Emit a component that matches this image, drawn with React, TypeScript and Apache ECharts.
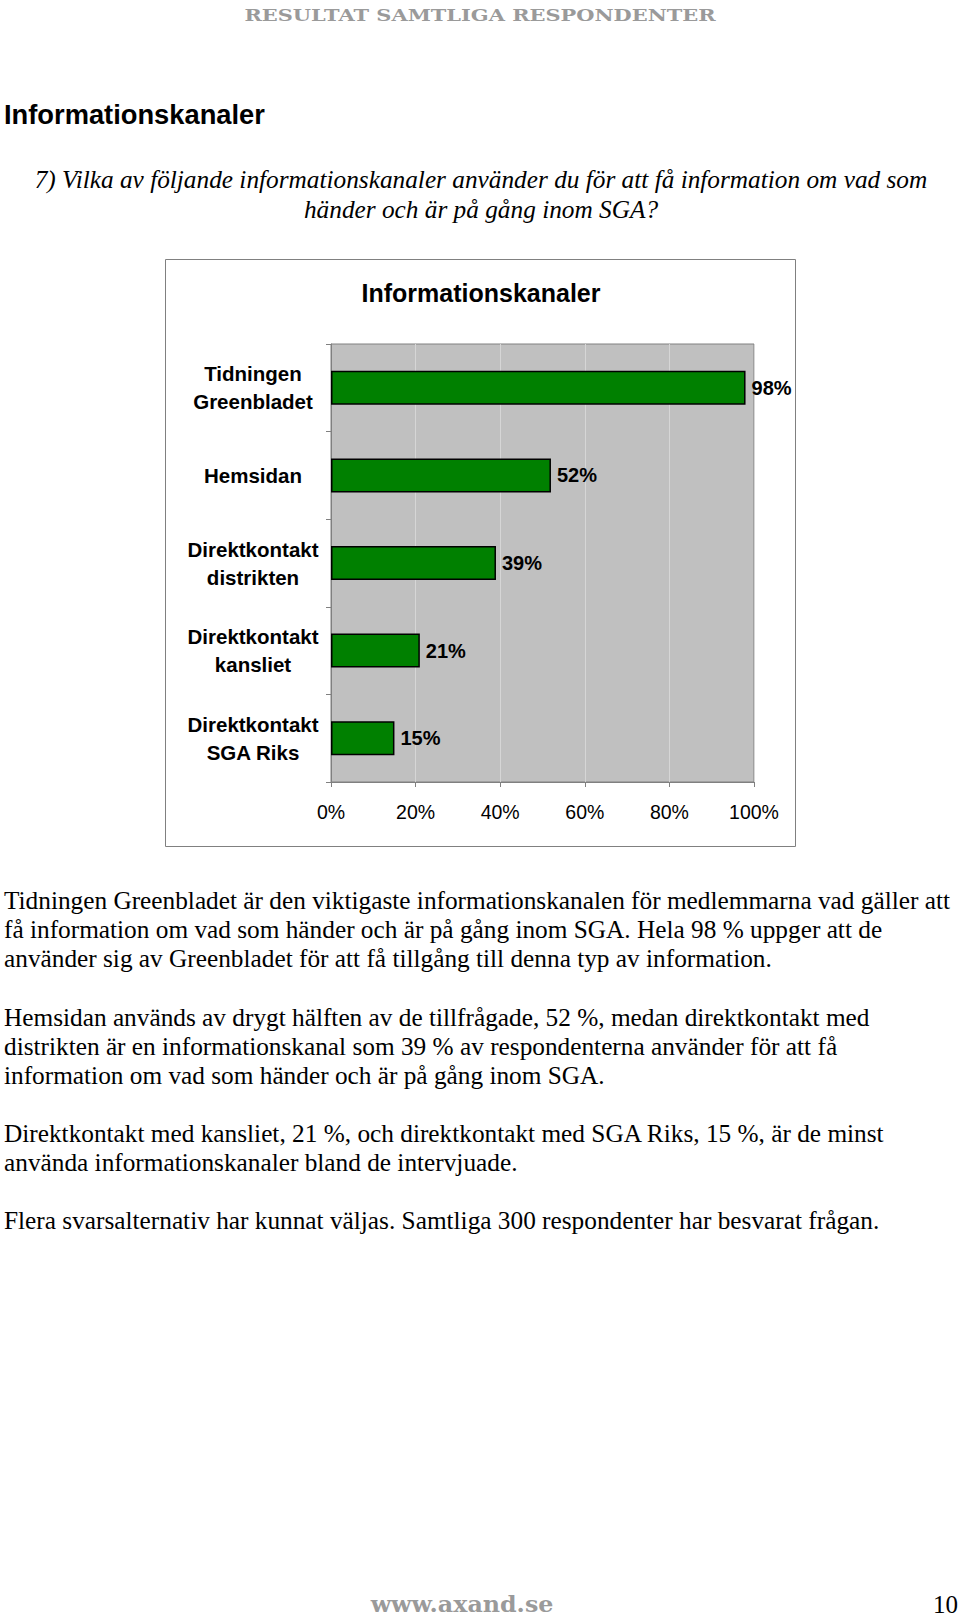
import React, { useEffect, useRef } from "react";
import * as echarts from "echarts";

// ---- data ----
const categories = [
  "Tidningen\nGreenbladet",
  "Hemsidan",
  "Direktkontakt\ndistrikten",
  "Direktkontakt\nkansliet",
  "Direktkontakt\nSGA Riks",
];
const values = [98, 52, 39, 21, 15];
const axisMin = 0;
const axisMax = 100;
const axisStep = 20;

const pageHeader = "RESULTAT SAMTLIGA RESPONDENTER";
const pageHeading = "Informationskanaler";
const chartTitle = "Informationskanaler";
const questionLines = [
  "7) Vilka av följande informationskanaler använder du för att få information om vad som",
  "händer och är på gång inom SGA?",
];
const paragraphs = [
  [
    "Tidningen Greenbladet är den viktigaste informationskanalen för medlemmarna vad gäller att",
    "få information om vad som händer och är på gång inom SGA. Hela 98 % uppger att de",
    "använder sig av Greenbladet för att få tillgång till denna typ av information.",
  ],
  [
    "Hemsidan används av drygt hälften av de tillfrågade, 52 %, medan direktkontakt med",
    "distrikten är en informationskanal som 39 % av respondenterna använder för att få",
    "information om vad som händer och är på gång inom SGA.",
  ],
  [
    "Direktkontakt med kansliet, 21 %, och direktkontakt med SGA Riks, 15 %, är de minst",
    "använda informationskanaler bland de intervjuade.",
  ],
  ["Flera svarsalternativ har kunnat väljas. Samtliga 300 respondenter har besvarat frågan."],
];
const footerSite = "www.axand.se";
const pageNumber = "10";

export default function App() {
  const ref = useRef<HTMLDivElement>(null);

  useEffect(() => {
    const chart = echarts.init(ref.current!, null, { renderer: "svg" });
    const sans = "'Liberation Sans', Arial, sans-serif";
    const serif = "'Liberation Serif', 'Times New Roman', serif";

    const txt = (
      text: string,
      x: number,
      y: number,
      opts: {
        size: number;
        family: string;
        weight?: string;
        style?: string;
        color?: string;
        align?: string;
        scaleX?: number;
      }
    ) => ({
      type: "text",
      x,
      y,
      scaleX: opts.scaleX || 1,
      silent: true,
      style: {
        text,
        fontSize: opts.size,
        fontFamily: opts.family,
        fontWeight: opts.weight || "normal",
        fontStyle: opts.style || "normal",
        fill: opts.color || "#000",
        align: opts.align || "left",
        verticalAlign: "middle",
        textAlign: opts.align || "left",
        textVerticalAlign: "middle",
      },
    });

    const graphics: any[] = [];
    // chart frame
    graphics.push({
      type: "rect",
      z: -10,
      silent: true,
      shape: { x: 165.5, y: 259.5, width: 630, height: 587 },
      style: { fill: "#ffffff", stroke: "#808080", lineWidth: 1 },
    });
    graphics.push(
      txt(pageHeader, 480, 15, {
        size: 17,
        family: "'DejaVu Serif', serif",
        weight: "bold",
        color: "#9a9a9a",
        align: "center",
        scaleX: 1.23,
      })
    );
    graphics.push(txt(pageHeading, 4, 114, { size: 27.3, family: sans, weight: "bold" }));
    graphics.push(txt(questionLines[0], 481, 179, { size: 25.3, family: serif, style: "italic", align: "center" }));
    graphics.push(txt(questionLines[1], 481, 209, { size: 25.3, family: serif, style: "italic", align: "center" }));
    graphics.push(txt(chartTitle, 481, 293, { size: 25, family: sans, weight: "bold", align: "center" }));

    const paraStarts = [900, 1017, 1133, 1220];
    const lineGap = 28.9;
    paragraphs.forEach((lines, pi) => {
      lines.forEach((line, li) => {
        graphics.push(txt(line, 4, paraStarts[pi] + li * lineGap, { size: 25.3, family: serif }));
      });
    });
    graphics.push(
      txt(footerSite, 462, 1604, {
        size: 22,
        family: "'DejaVu Serif', serif",
        weight: "bold",
        color: "#9a9a9a",
        align: "center",
        scaleX: 1.08,
      })
    );
    graphics.push(txt(pageNumber, 958, 1604, { size: 25, family: serif, align: "right" }));

    chart.setOption({
      animation: false,
      backgroundColor: "#ffffff",
      graphic: { elements: graphics },
      grid: {
        left: 331,
        top: 344,
        width: 423,
        height: 438,
        show: true,
        backgroundColor: "#c0c0c0",
        borderColor: "#808080",
        borderWidth: 1,
      },
      xAxis: {
        type: "value",
        min: axisMin,
        max: axisMax,
        interval: axisStep,
        axisLine: { show: true, lineStyle: { color: "#808080", width: 1 } },
        axisTick: { show: true, length: 5, lineStyle: { color: "#808080" } },
        splitLine: { show: true, lineStyle: { color: "#d6d6d6", width: 1 } },
        axisLabel: {
          formatter: "{value}%",
          color: "#000",
          fontSize: 19.5,
          fontFamily: sans,
          margin: 20,
        },
      },
      yAxis: {
        type: "category",
        inverse: true,
        data: categories,
        axisLine: { show: true, lineStyle: { color: "#808080", width: 1 } },
        axisTick: { show: true, length: 5, lineStyle: { color: "#808080" } },
        splitLine: { show: false },
        axisLabel: {
          color: "#000",
          fontSize: 20.5,
          fontWeight: "bold",
          fontFamily: sans,
          lineHeight: 28,
          align: "center",
          margin: 78,
        },
      },
      series: [
        {
          type: "bar",
          data: values,
          barWidth: 34,
          itemStyle: { color: "#008000", borderColor: "#000", borderWidth: 1.5 },
          label: {
            show: true,
            position: "right",
            distance: 6,
            formatter: "{c}%",
            color: "#000",
            fontSize: 20,
            fontWeight: "bold",
            fontFamily: sans,
          },
        },
      ],
    });

    return () => chart.dispose();
  }, []);

  return (
    <div
      ref={ref}
      style={{ position: "absolute", left: 0, top: 0, width: 960, height: 1620, background: "#fff" }}
    />
  );
}
